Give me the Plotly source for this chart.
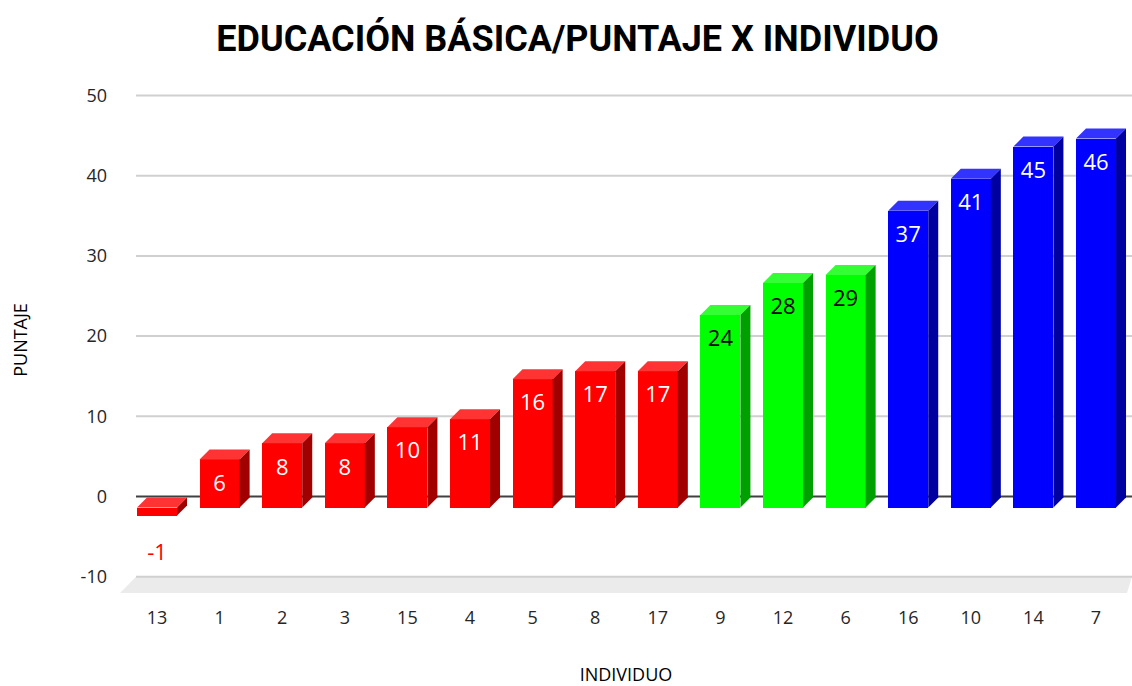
import plotly.graph_objects as go

individuos = ["13", "1", "2", "3", "15", "4", "5", "8", "17", "9", "12", "6", "16", "10", "14", "7"]
puntajes = [-1, 6, 8, 8, 10, 11, 16, 17, 17, 24, 28, 29, 37, 41, 45, 46]
grupos = ["r"] * 9 + ["g"] * 3 + ["b"] * 4
ytick_vals = [50, 40, 30, 20, 10, 0, -10]
ytick_text = ["50", "40", "30", "20", "10", "0", "-10"]

front_col = {"r": "#FF0000", "g": "#00FF00", "b": "#0000FF"}
top_col = {"r": "#FF3333", "g": "#33FF33", "b": "#3333FF"}
side_col = {"r": "#A00000", "g": "#00A000", "b": "#0000A0"}
text_col = {"r": "white", "g": "black", "b": "white"}

# layout geometry (pixels)
W, H = 1132, 686
L, R, T, B = 120, 0, 80, 86
plot_w = W - L - R
plot_h = H - T - B
px_per_cat = 62.6
px_per_unit = 8.02
cat0_px = 157
front_zero_px = 507.5
back_zero_px = 496.5
depth_px = 10

def px_to_x(px):
    return (px - cat0_px) / px_per_cat

def py_front(py):
    return (front_zero_px - py) / px_per_unit

def py_back(py):
    return (back_zero_px - py) / px_per_unit

xr = [px_to_x(L), px_to_x(W - R)]
yr_front = [py_front(T + plot_h), py_front(T)]
yr_back = [py_back(T + plot_h), py_back(T)]

bw = 0.64
dx = depth_px / px_per_cat
dy = depth_px / px_per_unit

fig = go.Figure()

xs = list(range(len(individuos)))
fig.add_trace(go.Bar(
    x=xs, y=puntajes, width=bw,
    marker=dict(color=[front_col[g] for g in grupos], line=dict(width=0)),
    showlegend=False, hoverinfo="skip",
))

for i, (v, g) in enumerate(zip(puntajes, grupos)):
    top = max(v, 0)
    bot = min(v, 0)
    xl, xrr = i - bw / 2, i + bw / 2
    fig.add_trace(go.Scatter(
        x=[xl, xrr, xrr + dx, xl + dx, xl],
        y=[top, top, top + dy, top + dy, top],
        fill="toself", fillcolor=top_col[g], mode="lines",
        line=dict(width=0, color=top_col[g]), showlegend=False, hoverinfo="skip",
    ))
    fig.add_trace(go.Scatter(
        x=[xrr, xrr + dx, xrr + dx, xrr, xrr],
        y=[top, top + dy, bot + dy, bot, top],
        fill="toself", fillcolor=side_col[g], mode="lines",
        line=dict(width=0, color=side_col[g]), showlegend=False, hoverinfo="skip",
    ))

# data labels
lab_y = [v - 3.2 if v > 0 else v - 4.9 for v in puntajes]
lab_c = [text_col[g] if v > 0 else "#FF0000" for v, g in zip(puntajes, grupos)]
fig.add_trace(go.Scatter(
    x=xs, y=lab_y, mode="text", text=[str(v) for v in puntajes],
    textposition="middle center",
    textfont=dict(family="Open Sans", size=22, color=lab_c),
    showlegend=False, hoverinfo="skip",
))

# back-wall axis for ticks / gridlines
fig.add_trace(go.Scatter(x=[None], y=[None], yaxis="y2", showlegend=False))

gx0 = (136 - L) / plot_w
shapes = []
# floor
fy_top = -10
fy_bot = py_back(593)
shapes.append(dict(
    type="path", xref="paper", yref="y2",
    path=f"M {gx0},{fy_top} L 1,{fy_top} L {(1127 - L) / plot_w},{fy_bot} L 0,{fy_bot} Z",
    fillcolor="#EBEBEB", line=dict(width=0), layer="below",
))
for t in [50, 40, 30, 20, 10, -10]:
    shapes.append(dict(type="line", xref="paper", yref="y2", x0=gx0, x1=1, y0=t, y1=t,
                       line=dict(color="#D0D0D0", width=2), layer="below"))
shapes.append(dict(type="line", xref="paper", yref="y2", x0=gx0, x1=1, y0=0, y1=0,
                   line=dict(color="#404040", width=2), layer="below"))

fig.update_layout(
    width=W, height=H,
    margin=dict(l=L, r=R, t=T, b=B, autoexpand=False),
    paper_bgcolor="white", plot_bgcolor="white",
    title=dict(text="<b>EDUCACIÓN BÁSICA/PUNTAJE X INDIVIDUO</b>", x=577.5 / W, xanchor="center",
               y=1 - 38 / H, yanchor="middle",
               font=dict(family="Roboto", size=36, color="black")),
    xaxis=dict(range=xr, tickmode="array", tickvals=xs, ticktext=individuos,
               showgrid=False, zeroline=False, showline=False, ticks="",
               automargin=False, ticklabelstandoff=5,
               tickfont=dict(family="Open Sans", size=18, color="#262626"),
               title=dict(text="INDIVIDUO", font=dict(family="Open Sans", size=18, color="black"),
                          standoff=42)),
    yaxis=dict(range=yr_front, visible=False, showgrid=False, zeroline=False, automargin=False),
    yaxis2=dict(range=yr_back, overlaying="y", side="left", tickmode="array",
                tickvals=ytick_vals, ticktext=ytick_text,
                showgrid=False, zeroline=False, showline=False, ticks="",
                automargin=False, ticklabelstandoff=12,
                tickfont=dict(family="Open Sans", size=18, color="#262626"),
                title=dict(text="PUNTAJE", font=dict(family="Open Sans", size=18, color="black"),
                           standoff=48)),
    shapes=shapes,
    bargap=0,
)

fig.write_html("out.html", config={"displayModeBar": False},
               post_script="document.body.style.margin='0px';")
